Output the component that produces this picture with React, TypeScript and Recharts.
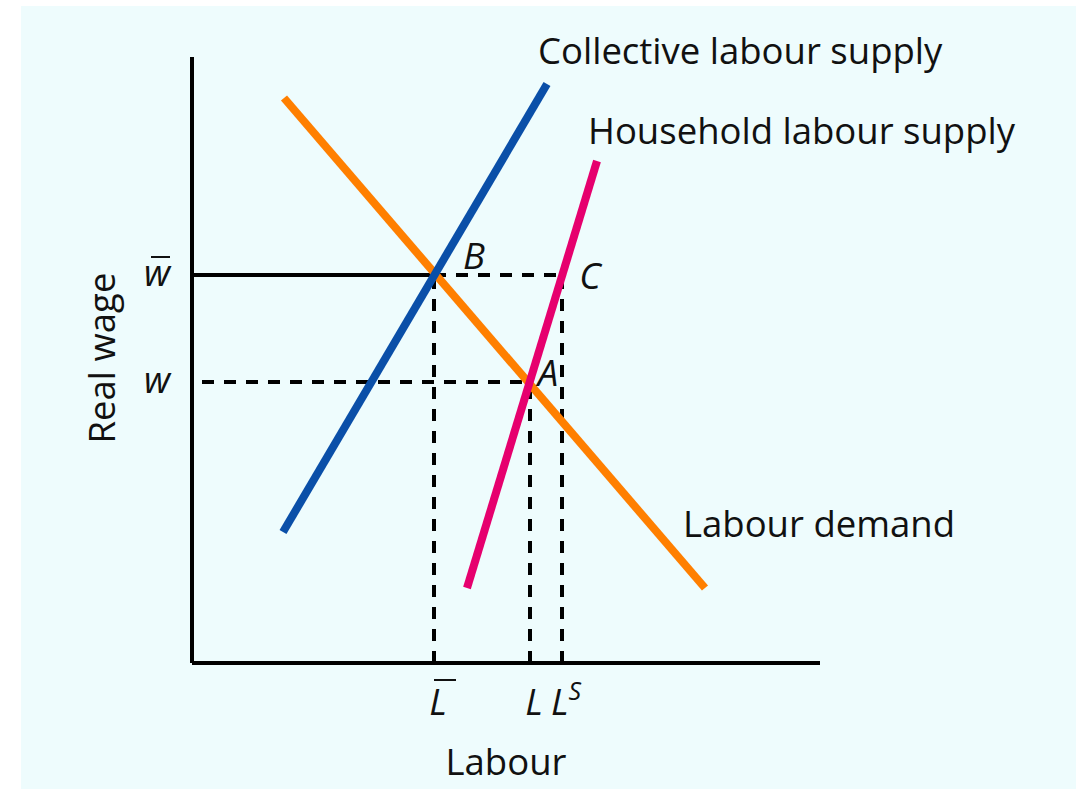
import { ComposedChart, Line, XAxis, YAxis, LabelList } from 'recharts'

// illustrative units: x = labour, y = real wage
const LABOUR_DEMAND = [{ x: 92, y: 565 }, { x: 513, y: 75 }]
const COLLECTIVE_SUPPLY = [{ x: 91, y: 131 }, { x: 355, y: 579 }]
const HOUSEHOLD_SUPPLY = [{ x: 275, y: 75 }, { x: 405, y: 502 }]

const W_BAR = 388
const W = 281
const L_BAR = 242
const L = 338
const L_S = 370

const X_TICKS = [L_BAR, L, L_S]
const X_TICK_LABELS = ['L\u0304', 'L', 'L']
const X_TICK_SUPS = ['', '', 'S']
const Y_TICKS = [W, W_BAR]
const Y_TICK_LABELS = ['w', 'w\u0304']

const W_BAR_SOLID = [{ x: 0, y: W_BAR }, { x: L_BAR, y: W_BAR }]
const W_BAR_DASHED = [{ x: L_BAR, y: W_BAR }, { x: L_S, y: W_BAR }]
const W_DASHED = [{ x: 0, y: W }, { x: L, y: W }]
const L_BAR_DASHED = [{ x: L_BAR, y: 0 }, { x: L_BAR, y: W_BAR }]
const L_DASHED = [{ x: L, y: 0 }, { x: L, y: W }]
const L_S_DASHED = [{ x: L_S, y: 0 }, { x: L_S, y: W_BAR }]

const FONT = '"Open Sans", sans-serif'
const FS = 36.5
const DASH = '12 10'
const AXIS_H = 40
const AXIS_W = 40

// a combining macron in the label means "draw a bar over it"
const barred = (s: string) => ({ text: s.replace('\u0304', ''), bar: s.includes('\u0304') })

const XTick = (p: any) => {
  const i = X_TICKS.indexOf(p.payload.value)
  const { text, bar } = barred(X_TICK_LABELS[i])
  const base = p.y + 44
  return (
    <g>
      <text x={p.x + 4} y={base} textAnchor="middle" fontFamily={FONT} fontSize={FS} fontStyle="italic" fill="#111">
        {text}
        {X_TICK_SUPS[i] && <tspan dy={-15} fontSize={25}>{X_TICK_SUPS[i]}</tspan>}
      </text>
      {bar && <line x1={p.x} x2={p.x + 22} y1={base - 35} y2={base - 35} stroke="#111" strokeWidth={2} />}
    </g>
  )
}

const YTick = (p: any) => {
  const i = Y_TICKS.indexOf(p.payload.value)
  const { text, bar } = barred(Y_TICK_LABELS[i])
  const end = p.x - 14
  const base = p.y + 11
  return (
    <g>
      <text x={end} y={base} textAnchor="end" fontFamily={FONT} fontSize={FS} fontStyle="italic" fill="#111">
        {text}
      </text>
      {bar && <line x1={end - 19} x2={end} y1={base - 29} y2={base - 29} stroke="#111" strokeWidth={2} />}
    </g>
  )
}

const curveLabel = (text: string, dx: number, dy: number) => (p: any) =>
  p.index === 1 ? (
    <text x={p.x + dx} y={p.y + dy} dominantBaseline="central" fontFamily={FONT} fontSize={FS} fill="#111">
      {text}
    </text>
  ) : null

const pointLabel = (labels: string[], offsets: number[][]) => (p: any) =>
  labels[p.index] ? (
    <text x={p.x + offsets[p.index][0]} y={p.y + offsets[p.index][1]} textAnchor="middle" dominantBaseline="central"
      fontFamily={FONT} fontSize={FS} fontStyle="italic" fill="#111">
      {labels[p.index]}
    </text>
  ) : null

const XTitle = (p: any) => {
  const vb = p.viewBox
  return (
    <text x={vb.x + vb.width / 2} y={vb.y + 98} textAnchor="middle" dominantBaseline="central" fontFamily={FONT} fontSize={FS} fill="#111">
      Labour
    </text>
  )
}

const YTitle = (p: any) => {
  const vb = p.viewBox
  const cx = vb.x + vb.width - 91
  const cy = vb.y + vb.height / 2 - 2
  return (
    <text x={cx} y={cy} transform={`rotate(-90 ${cx} ${cy})`} textAnchor="middle" dominantBaseline="central" fontFamily={FONT} fontSize={FS} fill="#111">
      Real wage
    </text>
  )
}

const guide = { stroke: '#000', strokeWidth: 4, dot: false, activeDot: false, isAnimationActive: false, type: 'linear' as const }

export default function App() {
  return (
    <div style={{ position: 'absolute', left: 0, top: 0, width: 1084, height: 789, background: '#fff' }}>
      <div style={{ position: 'absolute', left: 21, top: 6, width: 1055, height: 783, background: '#eefcfd' }} />
      <div style={{ position: 'absolute', left: 0, top: 0 }}>
        <ComposedChart width={1084} height={789} margin={{ top: 57, right: 264, bottom: 126 - AXIS_H, left: 192 - AXIS_W }}>
          <XAxis type="number" dataKey="x" domain={[0, 628]} allowDataOverflow ticks={X_TICKS} tick={<XTick />}
            tickLine={false} axisLine={{ stroke: '#000', strokeWidth: 4 }} height={AXIS_H} interval={0} label={<XTitle />} />
          <YAxis type="number" dataKey="y" domain={[0, 606]} allowDataOverflow ticks={Y_TICKS} tick={<YTick />}
            tickLine={false} axisLine={{ stroke: '#000', strokeWidth: 4 }} width={AXIS_W} interval={0} label={<YTitle />} />

          <Line data={W_BAR_SOLID} dataKey="y" {...guide} />
          <Line data={W_BAR_DASHED} dataKey="y" {...guide} strokeDasharray={DASH}>
            <LabelList content={pointLabel(['B', 'C'], [[40, -20], [28, 0]])} />
          </Line>
          <Line data={W_DASHED} dataKey="y" {...guide} strokeDasharray={DASH} strokeDashoffset={12}>
            <LabelList content={pointLabel(['', 'A'], [[0, 0], [18, -10]])} />
          </Line>
          <Line data={L_BAR_DASHED} dataKey="y" {...guide} strokeDasharray={DASH} />
          <Line data={L_DASHED} dataKey="y" {...guide} strokeDasharray={DASH} />
          <Line data={L_S_DASHED} dataKey="y" {...guide} strokeDasharray={DASH} />

          <Line data={LABOUR_DEMAND} dataKey="y" type="linear" stroke="#ff7f00" strokeWidth={8} dot={false} activeDot={false} isAnimationActive={false}>
            <LabelList content={curveLabel('Labour demand', -22, -65)} />
          </Line>
          <Line data={COLLECTIVE_SUPPLY} dataKey="y" type="linear" stroke="#0a4fa8" strokeWidth={8} dot={false} activeDot={false} isAnimationActive={false}>
            <LabelList content={curveLabel('Collective labour supply', -9, -34)} />
          </Line>
          <Line data={HOUSEHOLD_SUPPLY} dataKey="y" type="linear" stroke="#e6006e" strokeWidth={8} dot={false} activeDot={false} isAnimationActive={false}>
            <LabelList content={curveLabel('Household labour supply', -9, -31)} />
          </Line>
        </ComposedChart>
      </div>
    </div>
  )
}
